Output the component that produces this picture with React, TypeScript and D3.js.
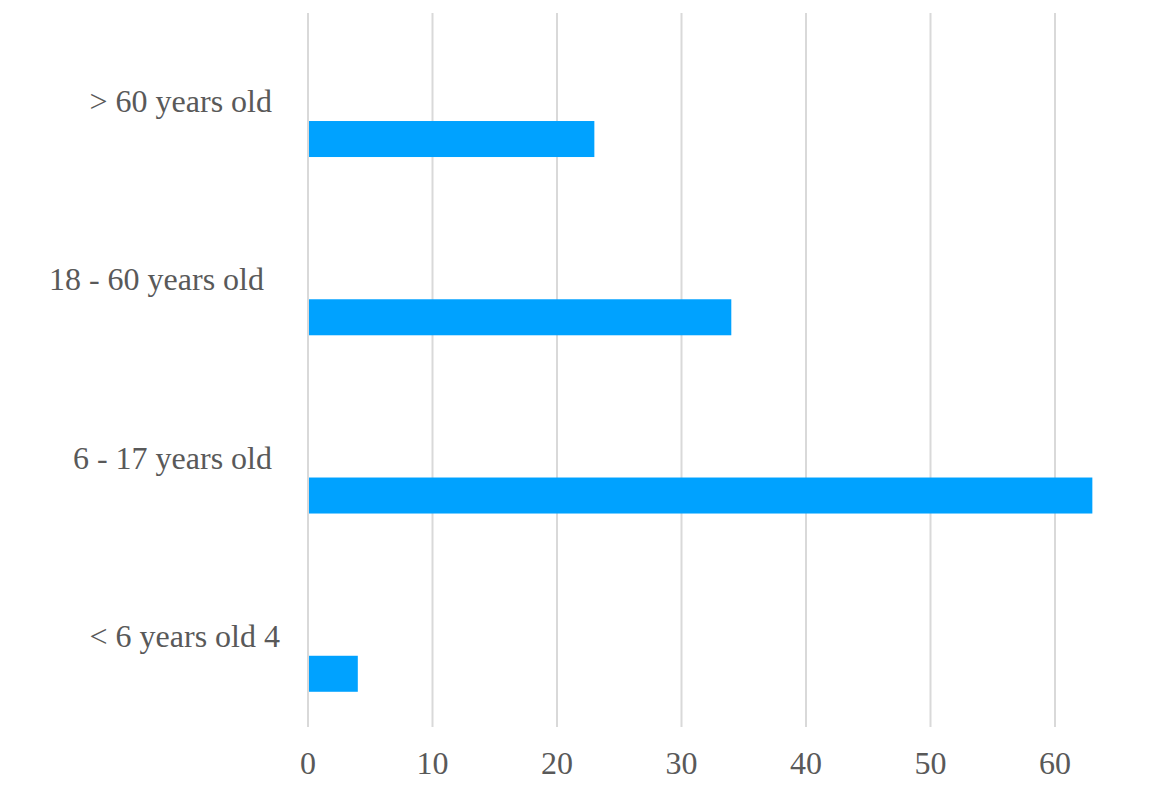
import React from "react";
import * as d3 from "d3";

const categories = ["> 60 years old ", "18 - 60 years old  ", "6 - 17 years old ", "< 6 years old 4"];
const values = [23, 34, 63, 4];
const xTicks = [0, 10, 20, 30, 40, 50, 60];

const W = 1160;
const H = 787;
const FONT = "'Liberation Serif', 'Times New Roman', serif";
const TEXT = "#595959";

export default function App() {
  const x = d3.scaleLinear().domain([0, 60]).range([308, 1055]);
  const y = d3.scaleBand<string>().domain(categories).range([13, 726]).padding(0);
  const bw = y.bandwidth();

  return (
    <svg width={W} height={H} style={{ position: "absolute", left: 0, top: 0, background: "#fff" }}>
      {xTicks.map((t) => (
        <line key={"g" + t} x1={x(t)} x2={x(t)} y1={13} y2={727} stroke="#d9d9d9" strokeWidth={2} />
      ))}
      {categories.map((c, i) => (
        <rect
          key={"b" + c}
          x={x(0) + 1}
          y={(y(c) as number) + bw * 0.606}
          width={x(values[i]) - x(0) - 1}
          height={bw * 0.202}
          fill="#00A2FF"
        />
      ))}
      {categories.map((c) => (
        <text
          key={"l" + c}
          x={280}
          y={(y(c) as number) + bw / 2 + 10}
          textAnchor="end"
          fontFamily={FONT}
          fontSize={32}
          fill={TEXT}
          style={{ whiteSpace: "pre" }}
        >
          {c}
        </text>
      ))}
      {xTicks.map((t) => (
        <text
          key={"t" + t}
          x={x(t)}
          y={774}
          textAnchor="middle"
          fontFamily={FONT}
          fontSize={32}
          fill={TEXT}
        >
          {t}
        </text>
      ))}
    </svg>
  );
}
